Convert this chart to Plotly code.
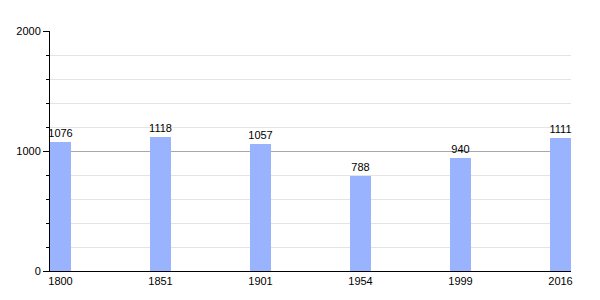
import plotly.graph_objects as go

years = ["1800", "1851", "1901", "1954", "1999", "2016"]
population = [1076, 1118, 1057, 788, 940, 1111]

fig = go.Figure()
fig.add_trace(go.Bar(
    x=years, y=population,
    width=0.21,
    marker=dict(color="#99b3ff", line=dict(width=0)),
    text=[str(v) for v in population],
    textposition="outside",
    constraintext="none",
    textfont=dict(family="Liberation Sans, Arial", size=11, color="#000000"),
    cliponaxis=False,
))
fig.update_layout(
    width=600, height=300,
    margin=dict(l=50, r=29, t=31, b=29),
    paper_bgcolor="white", plot_bgcolor="white",
    showlegend=False,
    bargap=0,
    font=dict(family="Liberation Sans, Arial", size=11, color="#000000"),
    xaxis=dict(
        type="category",
        range=[-0.105, 5.105],
        showline=True, linecolor="#000000", linewidth=1,
        showgrid=False, ticks="", ticklen=0,
        tickfont=dict(size=11),
    ),
    yaxis=dict(
        range=[0, 2000],
        tickvals=[0, 1000, 2000],
        showline=True, linecolor="#000000", linewidth=1,
        showgrid=True, gridcolor="#a8a8a8", gridwidth=1,
        ticks="outside", ticklen=6, tickcolor="#000000",
        tickfont=dict(size=11),
        zeroline=False,
        minor=dict(dtick=200, showgrid=True, gridcolor="#e4e4e4",
                   ticks="outside", ticklen=3, tickcolor="#000000"),
    ),
)
fig.write_html("out.html")
